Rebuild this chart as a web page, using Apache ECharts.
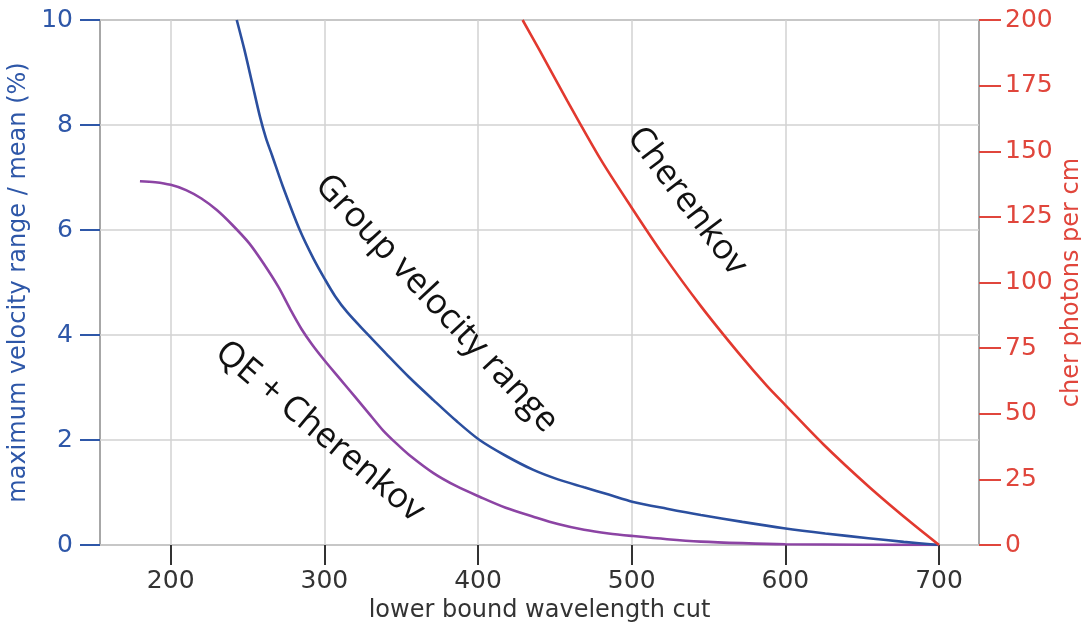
<!DOCTYPE html>
<html>
<head>
<meta charset="utf-8">
<script src="https://cdn.jsdelivr.net/npm/echarts@6/dist/echarts.min.js"></script>
<style>
  html, body { margin: 0; padding: 0; background: #fff; }
  #chart { width: 1081px; height: 622px; }
</style>
</head>
<body>
<div id="chart"></div>
<script>
// Wavelength tick values along the bottom axis (nm)
const wavelengthTicks = [200, 300, 400, 500, 600, 700];

// Group velocity range (max range / mean, %) vs. lower wavelength cut
const groupVelocity = [
  [243, 10.0], [248, 9.43], [253, 8.8], [258, 8.17], [262, 7.75], [266, 7.42],
  [273, 6.83], [284, 6.0], [293, 5.45], [300, 5.08], [307, 4.74], [315, 4.43],
  [327, 4.05], [340, 3.65], [355, 3.2], [371, 2.76], [386, 2.36], [401, 2.0],
  [418, 1.7], [436, 1.43], [452, 1.25], [469, 1.1], [485, 0.96], [501, 0.82],
  [523, 0.69], [545, 0.57], [572, 0.44], [599, 0.32], [626, 0.22], [654, 0.13],
  [677, 0.06], [700, 0.0]
];

// Same quantity weighted by QE and the Cherenkov spectrum
const qeCherenkov = [
  [180, 6.93], [190, 6.91], [200, 6.86], [210, 6.76], [220, 6.6], [230, 6.38],
  [240, 6.1], [251, 5.75], [260, 5.38], [270, 4.92], [278, 4.48], [285, 4.12],
  [292, 3.82], [300, 3.52], [310, 3.17], [320, 2.82], [330, 2.47], [338, 2.19],
  [347, 1.93], [355, 1.72], [371, 1.37], [386, 1.12], [401, 0.92], [418, 0.71],
  [436, 0.54], [452, 0.40], [469, 0.29], [485, 0.22], [501, 0.17], [523, 0.11],
  [545, 0.065], [572, 0.035], [600, 0.015], [650, 0.005], [700, 0.0]
];

// Cherenkov photons per cm above the wavelength cut (right axis)
const cherPhotons = [
  [429, 200], [440, 188.5], [458, 169.3], [480, 146.7], [500, 128.5], [520, 111],
  [545, 91], [570, 72.8], [588, 60.6], [600, 53.3], [625, 38.2], [654, 22.4],
  [680, 9.4], [700, 0]
];

// Curve annotations: text, anchor in data space (x, left-axis y), clockwise tilt (deg)
const annotationText = ['Group velocity range', 'Cherenkov', 'QE + Cherenkov'];
const annotationAnchor = [[373, 4.6], [536, 6.55], [297, 2.16]];
const annotationAngle = [47, 53, 40];

const BLUE = '#2b4f9f';
const BLUE_TEXT = '#2e57a8';
const PURPLE = '#8c44a4';
const RED = '#e2392f';
const RED_TEXT = '#e0463c';
const FRAME = '#8a8a8a';
const GRID = '#d2d2d2';
const FONT = 'DejaVu Sans';

const chart = echarts.init(document.getElementById('chart'), null, { renderer: 'canvas' });

chart.setOption({
  animation: false,
  backgroundColor: '#fff',
  grid: {
    left: 100, right: 102, top: 20, bottom: 77,
    outerBoundsMode: 'none',
    containLabel: false,
    show: true, borderColor: FRAME, borderWidth: 1.5, backgroundColor: 'transparent'
  },
  xAxis: {
    type: 'value',
    min: 154, max: 726,
    name: 'lower bound wavelength cut',
    nameLocation: 'middle',
    nameGap: 54,
    nameTextStyle: { fontFamily: FONT, fontSize: 24, color: '#333' },
    axisLine: { show: false },
    axisTick: {
      show: true, customValues: wavelengthTicks, length: 20,
      lineStyle: { color: '#333', width: 2 }
    },
    axisLabel: {
      customValues: wavelengthTicks, margin: 24,
      fontFamily: FONT, fontSize: 25, color: '#333'
    },
    splitLine: { show: true, lineStyle: { color: GRID, width: 1.5 } }
  },
  yAxis: [
    {
      type: 'value',
      min: 0, max: 10, interval: 2,
      name: 'maximum velocity range / mean (%)',
      nameLocation: 'middle',
      nameGap: 61,
      nameTextStyle: { fontFamily: FONT, fontSize: 24, color: BLUE_TEXT },
      axisLine: { show: false },
      axisTick: { show: true, length: 20, lineStyle: { color: BLUE_TEXT, width: 2 } },
      axisLabel: { margin: 27, fontFamily: FONT, fontSize: 25, color: BLUE_TEXT },
      splitLine: { show: true, lineStyle: { color: GRID, width: 1.5 } }
    },
    {
      type: 'value',
      position: 'right',
      min: 0, max: 200, interval: 25,
      axisLine: { show: false },
      axisTick: { show: true, length: 22, lineStyle: { color: RED_TEXT, width: 2 } },
      axisLabel: { margin: 26, fontFamily: FONT, fontSize: 25, color: RED_TEXT },
      splitLine: { show: false }
    }
  ],
  series: [
    {
      name: 'Group velocity range',
      type: 'line', yAxisIndex: 0,
      data: groupVelocity,
      showSymbol: false, smooth: 0.3,
      lineStyle: { color: BLUE, width: 2.6 },
      clip: true, z: 3
    },
    {
      name: 'QE + Cherenkov',
      type: 'line', yAxisIndex: 0,
      data: qeCherenkov,
      showSymbol: false, smooth: 0.3,
      lineStyle: { color: PURPLE, width: 2.6 },
      clip: true, z: 2
    },
    {
      name: 'Cherenkov',
      type: 'line', yAxisIndex: 1,
      data: cherPhotons,
      showSymbol: false, smooth: 0.3,
      lineStyle: { color: RED, width: 2.6 },
      clip: true, z: 4
    }
  ]
});

// Place the tilted curve labels at their data-space anchors
const labels = annotationText.map((text, i) => {
  const p = chart.convertToPixel({ xAxisIndex: 0, yAxisIndex: 0 }, annotationAnchor[i]);
  return {
    type: 'text',
    x: p[0], y: p[1],
    rotation: -annotationAngle[i] * Math.PI / 180,
    style: {
      text: text,
      fontFamily: 'Open Sans',
      fontSize: 35,
      fill: '#111',
      align: 'center',
      verticalAlign: 'middle'
    },
    z: 10
  };
});

// Right-axis title, centred on the plot height just outside the tick labels
const gridTop = chart.convertToPixel({ yAxisIndex: 1 }, 200);
const gridBottom = chart.convertToPixel({ yAxisIndex: 1 }, 0);
labels.push({
  type: 'text',
  x: 1072, y: (gridTop + gridBottom) / 2,
  rotation: Math.PI / 2,
  style: {
    text: 'cher photons per cm',
    fontFamily: FONT, fontSize: 24, fill: RED_TEXT,
    align: 'center', verticalAlign: 'middle'
  }
});
chart.setOption({ graphic: labels });
</script>
</body>
</html>
